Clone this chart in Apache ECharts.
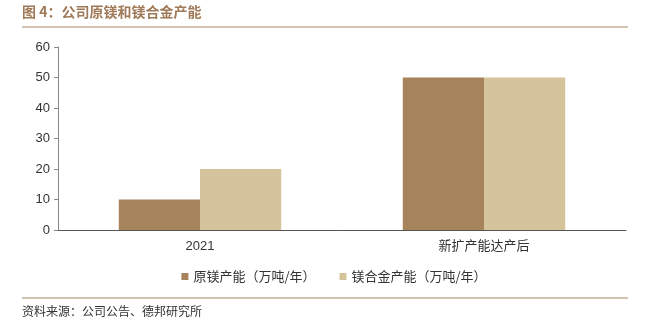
<!DOCTYPE html>
<html><head><meta charset="utf-8">
<script src="https://cdn.jsdelivr.net/npm/echarts@6/dist/echarts.min.js"></script>
<style>html,body{margin:0;padding:0;background:#fff}#c{width:668px;height:330px}</style>
</head><body><div id="c"></div>
<script>
var categories = ['2021', '新扩产能达产后'];
var seriesNames = ['原镁产能（万吨/年）', '镁合金产能（万吨/年）'];
var primaryMg = [10, 50];
var mgAlloy = [20, 50];
var yTicks = [0, 10, 20, 30, 40, 50, 60];
var title = '图 4：公司原镁和镁合金产能';
var source = '资料来源：公司公告、德邦研究所';

var chart = echarts.init(document.getElementById('c'));
var cjk = '"Noto Sans CJK SC", sans-serif';
chart.setOption({
  animation: false,
  graphic: [
    {type:'text', left:22, top:5, style:{text:title, fill:'#a07a58', font:'bold 14px ' + cjk}},
    {type:'line', shape:{x1:22,y1:27,x2:628,y2:27}, style:{stroke:'#a68665', lineWidth:1}},
    {type:'line', shape:{x1:22,y1:298,x2:628,y2:298}, style:{stroke:'#a68665', lineWidth:1}},
    {type:'text', left:22, top:305, style:{text:source, fill:'#333', font:'12px ' + cjk}}
  ],
  grid: {left:58, right:42, top:47, bottom:100, containLabel:false},
  legend: {
    bottom: 42, left: 'center', itemWidth: 7, itemHeight: 7, itemGap: 24,
    icon: 'rect',
    textStyle: {fontFamily: cjk, fontSize: 13, color: '#333'},
    data: seriesNames
  },
  xAxis: {
    type: 'category', data: categories,
    axisLine: {lineStyle: {color: '#555'}},
    axisTick: {inside: true, length: 5, lineStyle: {color: '#555'}},
    axisLabel: {fontFamily: 'Arial, "Liberation Sans", ' + cjk, fontSize: 13, color: '#333', margin: 10}
  },
  yAxis: {
    type: 'value', min: yTicks[0], max: yTicks[yTicks.length-1], interval: 10,
    splitLine: {show: false},
    axisLine: {show: true, lineStyle: {color: '#888'}},
    axisTick: {show: true, length: 4, lineStyle: {color: '#888'}},
    axisLabel: {fontFamily: '"Liberation Sans", Arial', fontSize: 13, color: '#333', margin: 8}
  },
  series: [
    {name: seriesNames[0], type: 'bar', data: primaryMg, barWidth: '28.6%', barGap: '0%',
     itemStyle: {color: '#a6835a'}},
    {name: seriesNames[1], type: 'bar', data: mgAlloy, barWidth: '28.6%',
     itemStyle: {color: '#d5c49b'}}
  ]
});
</script></body></html>
